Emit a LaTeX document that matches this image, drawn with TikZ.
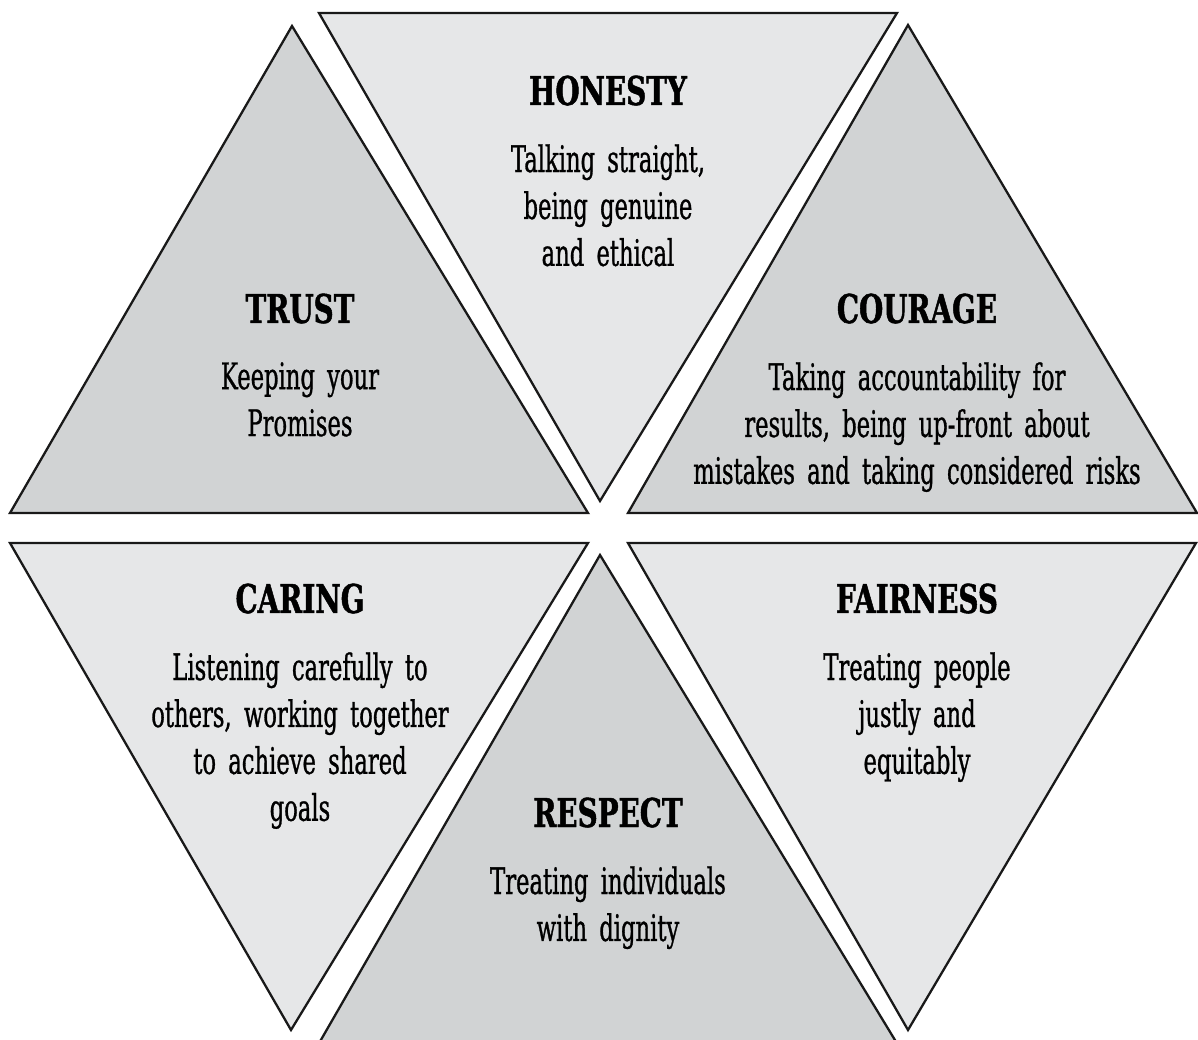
\documentclass[tikz,border=0pt]{standalone}
\usepackage{fontspec}
\usepackage{xcolor}
\usepackage{tikz}
\usetikzlibrary{positioning}
\newfontfamily\bodyfont[FakeStretch=0.62, FakeBold=0.8, WordSpace=1.7]{DejaVu Serif}
\newfontfamily\headfont[FakeStretch=0.70, FakeBold=1.2]{DejaVu Serif}
\definecolor{darkgray}{HTML}{D1D3D4}
\definecolor{lightgray}{HTML}{E6E7E8}

\begin{document}
\begin{tikzpicture}[
    x=0.02cm, y=-0.02cm,
    face/.style={draw=black!90, line width=1.3pt, line join=miter},
    darkface/.style={face, fill=darkgray},
    lightface/.style={face, fill=lightgray},
    heading/.style={inner sep=0pt, anchor=base, font=\headfont\bfseries\fontsize{22.6}{27}\selectfont},
    blurb/.style={inner sep=0pt, align=center, below=0.76cm of #1, font=\bodyfont\fontsize{20.8}{26.7}\selectfont}
]
    \useasboundingbox (0,0) rectangle (1198,1040);
    \clip (0,0) rectangle (1198,1040);

    % Upper row
    \draw[darkface]  (10,513) -- (588,513) -- (292,26) -- cycle;
    \draw[lightface] (319,13) -- (897,13) -- (600,501) -- cycle;
    \draw[darkface]  (628,513) -- (1197,513) -- (908,25) -- cycle;

    % Lower row
    \draw[lightface] (10,543) -- (588,543) -- (291,1030) -- cycle;
    \draw[darkface]  (318,1045) -- (898,1045) -- (600,555) -- cycle;
    \draw[lightface] (628,543) -- (1196,543) -- (908,1030) -- cycle;

    % Headings
    \node[heading] (honesty) at (608,105) {HONESTY};
    \node[heading] (trust) at (300,323) {TRUST};
    \node[heading] (courage) at (917,323) {COURAGE};
    \node[heading] (caring) at (300,613) {CARING};
    \node[heading] (fairness) at (917,613) {FAIRNESS};
    \node[heading] (respect) at (608,827) {RESPECT};

    % Descriptions
    \node[blurb=honesty] (honestytxt) {Talking straight,\\being genuine\\and ethical};
    \node[blurb=trust] (trusttxt) {Keeping your\\Promises};
    \node[blurb=courage] (couragetxt) {Taking accountability for\\results, being up-front about\\mistakes and taking considered risks};
    \node[blurb=caring] (caringtxt) {Listening carefully to\\others, working together\\to achieve shared\\goals};
    \node[blurb=fairness] (fairnesstxt) {Treating people\\justly and\\equitably};
    \node[blurb=respect] (respecttxt) {Treating individuals\\with dignity};
\end{tikzpicture}
\end{document}
